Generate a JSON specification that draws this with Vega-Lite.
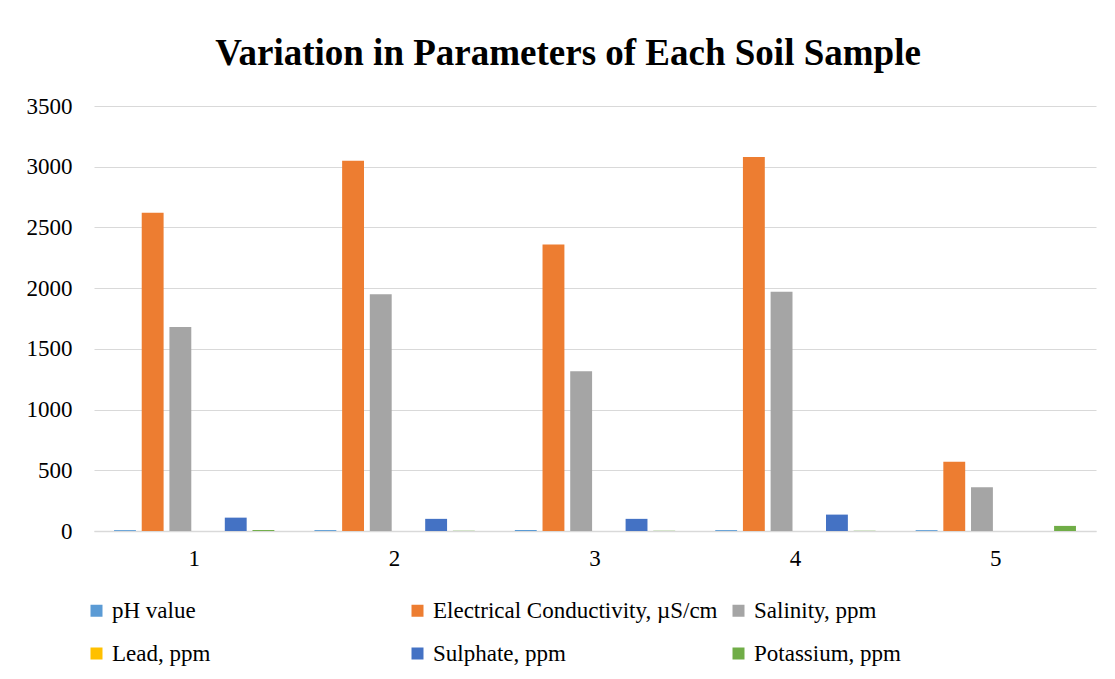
{
  "$schema": "https://vega.github.io/schema/vega-lite/v6.json",
  "width": 1002,
  "height": 425,
  "padding": {"left": 26, "top": 35, "right": 10, "bottom": 10},
  "background": "white",
  "title": {
    "text": "Variation in Parameters of Each Soil Sample",
    "font": "Liberation Serif",
    "fontSize": 37,
    "fontWeight": "bold",
    "color": "#000000",
    "anchor": "middle",
    "dx": -27,
    "offset": 22
  },
  "data": {
    "values": [
      {"sample": "1", "parameter": "pH value", "value": 7.2},
      {"sample": "1", "parameter": "Electrical Conductivity, µS/cm", "value": 2620},
      {"sample": "1", "parameter": "Salinity, ppm", "value": 1680},
      {"sample": "1", "parameter": "Lead, ppm", "value": 0.1},
      {"sample": "1", "parameter": "Sulphate, ppm", "value": 110},
      {"sample": "1", "parameter": "Potassium, ppm", "value": 8},
      {"sample": "2", "parameter": "pH value", "value": 7.5},
      {"sample": "2", "parameter": "Electrical Conductivity, µS/cm", "value": 3050},
      {"sample": "2", "parameter": "Salinity, ppm", "value": 1950},
      {"sample": "2", "parameter": "Lead, ppm", "value": 0.1},
      {"sample": "2", "parameter": "Sulphate, ppm", "value": 100},
      {"sample": "2", "parameter": "Potassium, ppm", "value": 2},
      {"sample": "3", "parameter": "pH value", "value": 7.4},
      {"sample": "3", "parameter": "Electrical Conductivity, µS/cm", "value": 2360},
      {"sample": "3", "parameter": "Salinity, ppm", "value": 1315},
      {"sample": "3", "parameter": "Lead, ppm", "value": 0.1},
      {"sample": "3", "parameter": "Sulphate, ppm", "value": 100},
      {"sample": "3", "parameter": "Potassium, ppm", "value": 2},
      {"sample": "4", "parameter": "pH value", "value": 7.3},
      {"sample": "4", "parameter": "Electrical Conductivity, µS/cm", "value": 3080},
      {"sample": "4", "parameter": "Salinity, ppm", "value": 1970},
      {"sample": "4", "parameter": "Lead, ppm", "value": 0.1},
      {"sample": "4", "parameter": "Sulphate, ppm", "value": 135},
      {"sample": "4", "parameter": "Potassium, ppm", "value": 2},
      {"sample": "5", "parameter": "pH value", "value": 7.1},
      {"sample": "5", "parameter": "Electrical Conductivity, µS/cm", "value": 570},
      {"sample": "5", "parameter": "Salinity, ppm", "value": 360},
      {"sample": "5", "parameter": "Lead, ppm", "value": 0.1},
      {"sample": "5", "parameter": "Sulphate, ppm", "value": 0},
      {"sample": "5", "parameter": "Potassium, ppm", "value": 42}
    ]
  },
  "mark": {"type": "bar"},
  "encoding": {
    "x": {
      "field": "sample",
      "type": "nominal",
      "scale": {"paddingInner": 0.2, "paddingOuter": 0.1},
      "axis": {
        "title": null,
        "labelAngle": 0,
        "labelPadding": 16,
        "labelFont": "Liberation Serif",
        "ticks": false,
        "domainColor": "#d9d9d9",
        "domainWidth": 1.5,
        "grid": false
      }
    },
    "xOffset": {
      "field": "parameter",
      "type": "nominal",
      "scale": {
        "domain": ["pH value", "Electrical Conductivity, µS/cm", "Salinity, ppm", "Lead, ppm", "Sulphate, ppm", "Potassium, ppm"],
        "paddingInner": 0.21,
        "paddingOuter": 0
      }
    },
    "y": {
      "field": "value",
      "type": "quantitative",
      "scale": {"domain": [0, 3500]},
      "axis": {
        "title": null,
        "values": [0, 500, 1000, 1500, 2000, 2500, 3000, 3500],
        "format": "d",
        "labelPadding": 22,
        "labelFont": "Liberation Serif",
        "ticks": false,
        "domain": false,
        "grid": true,
        "gridColor": "#d9d9d9",
        "gridWidth": 1.2
      }
    },
    "color": {
      "field": "parameter",
      "type": "nominal",
      "scale": {
        "domain": ["pH value", "Electrical Conductivity, µS/cm", "Salinity, ppm", "Lead, ppm", "Sulphate, ppm", "Potassium, ppm"],
        "range": ["#5B9BD5", "#ED7D31", "#A5A5A5", "#FFC000", "#4472C4", "#70AD47"]
      },
      "legend": {
        "title": null,
        "orient": "none",
        "legendX": -9,
        "legendY": 493,
        "direction": "horizontal",
        "columns": 3,
        "gridAlign": "all",
        "columnPadding": 9,
        "rowPadding": 19,
        "symbolType": "square",
        "symbolSize": 144,
        "symbolStrokeWidth": 0,
        "labelFont": "Liberation Serif",
        "labelFontSize": 23,
        "labelColor": "#000000",
        "labelOffset": 4,
        "labelLimit": 400
      }
    }
  },
  "config": {
    "font": "Liberation Serif",
    "view": {"stroke": null},
    "axis": {"labelFont": "Liberation Serif", "labelFontSize": 23, "labelColor": "#000000"},
    "legend": {"labelFont": "Liberation Serif", "labelFontSize": 23, "labelColor": "#000000"}
  }
}
